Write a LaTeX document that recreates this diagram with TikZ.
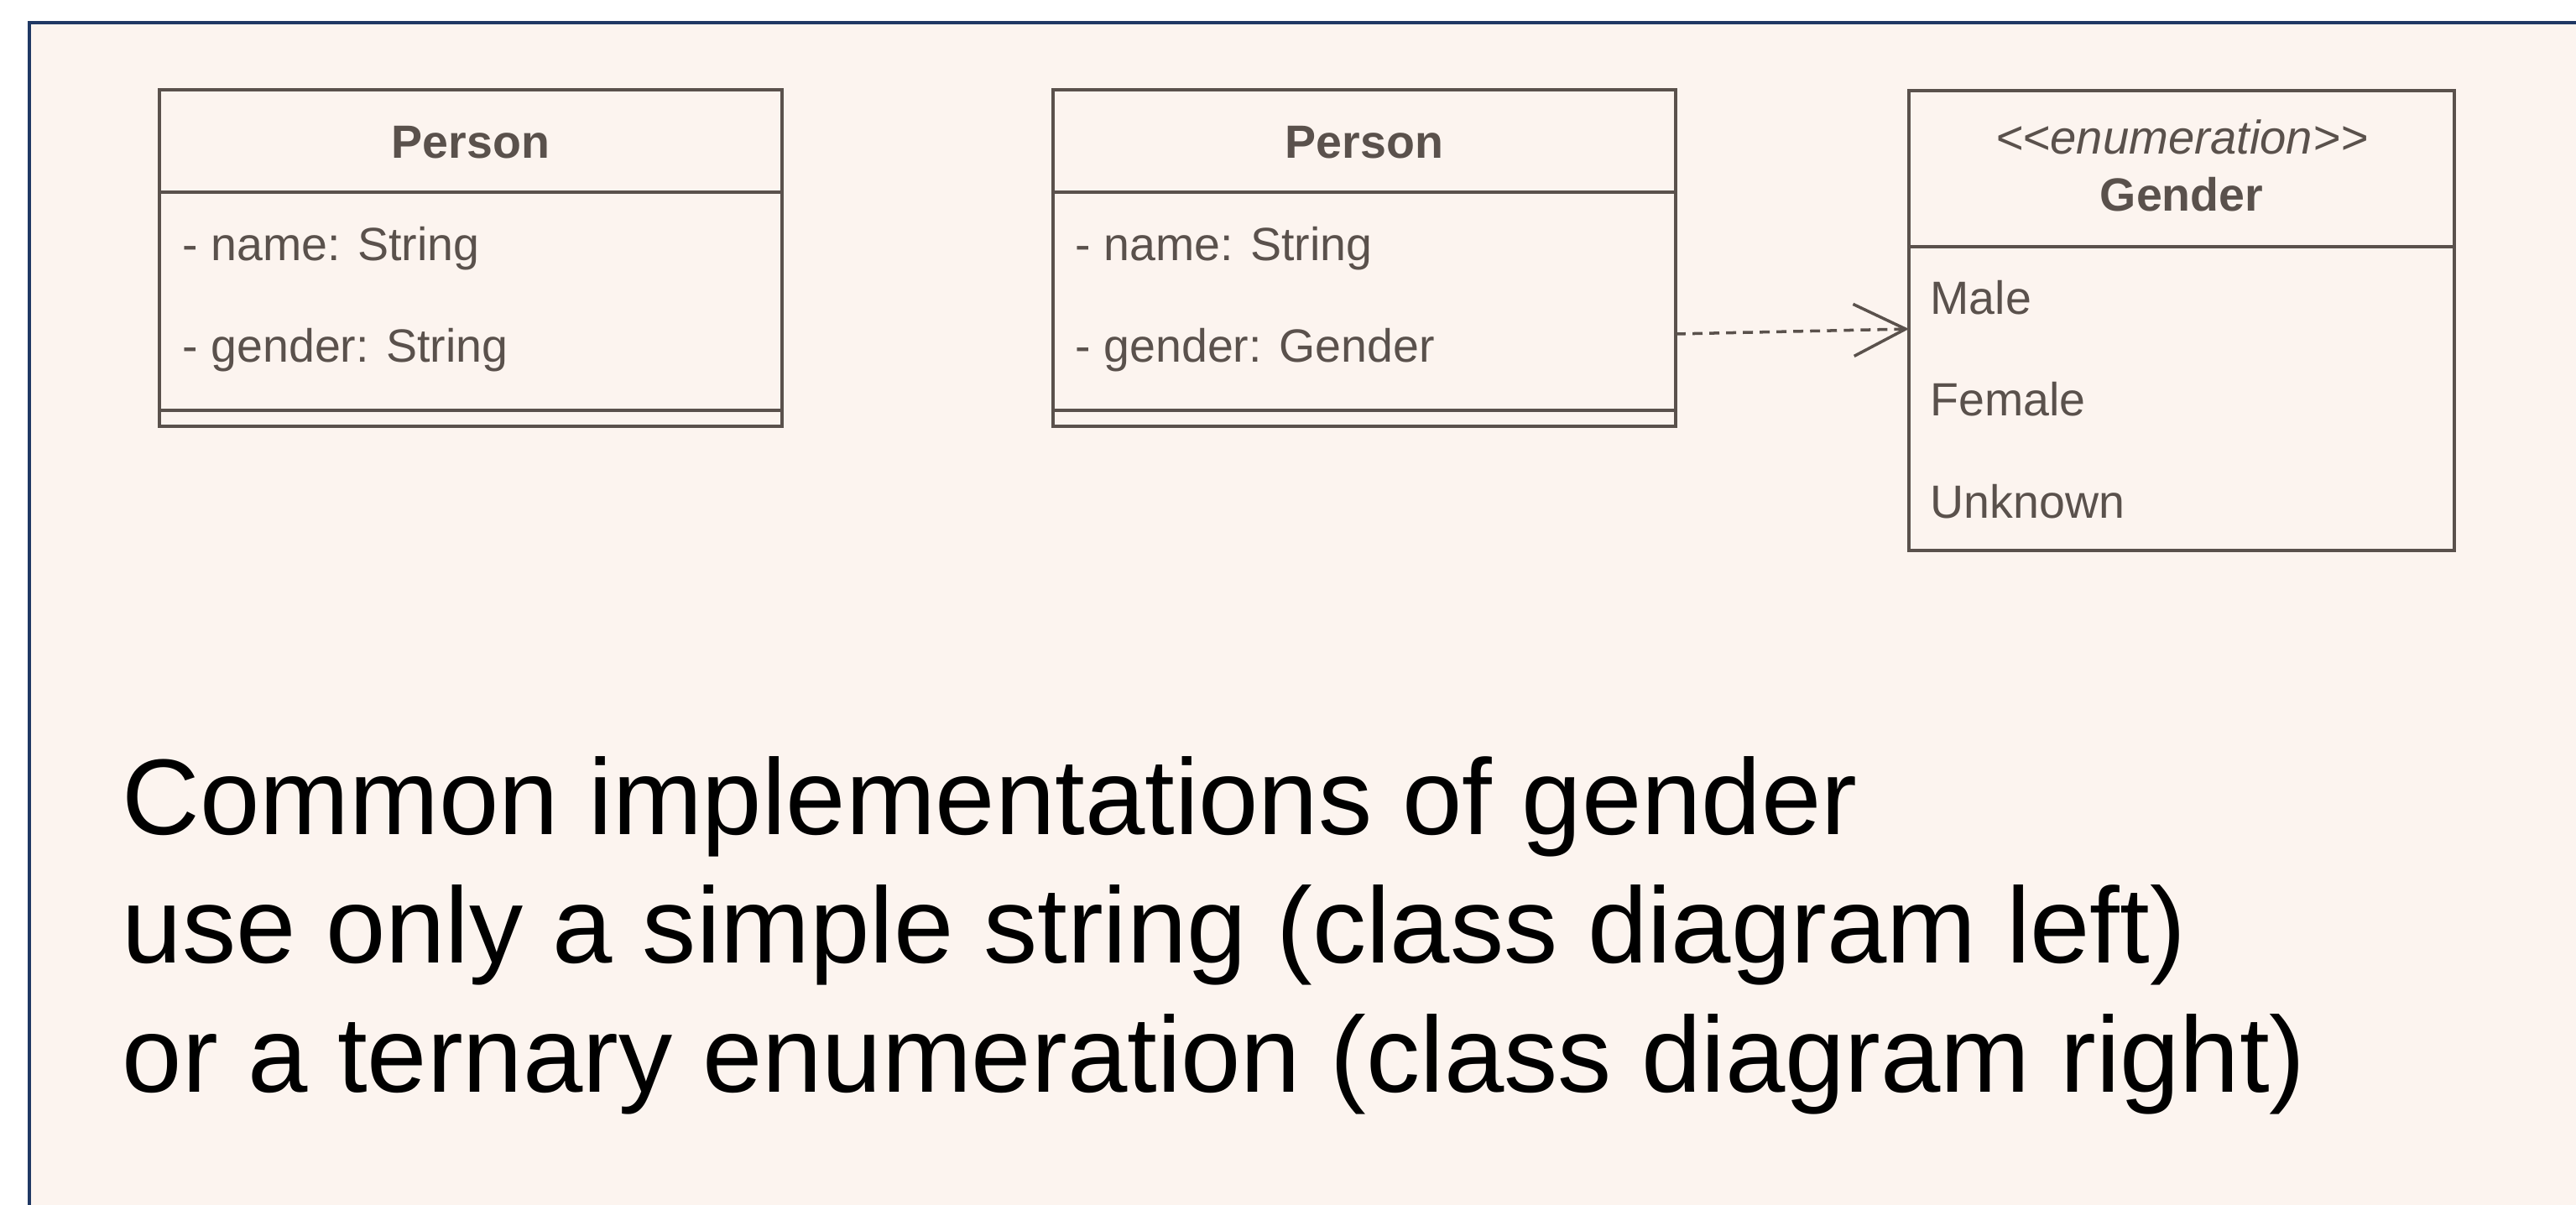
\documentclass[tikz,border=0pt]{standalone}
\usepackage{fontspec}
\setmainfont{Liberation Sans}[Ligatures=TeXOff]
\usetikzlibrary{positioning,arrows.meta}
\definecolor{fondo}{HTML}{FCF4EF}
\definecolor{marco}{HTML}{203864}
\definecolor{linea}{HTML}{5A514C}
\tikzset{
  caja/.style={draw=linea, line width=1.2pt, fill=fondo, outer sep=0pt, inner sep=0pt},
  texto/.style={text=linea, font=\fontsize{15.8}{18}\selectfont, inner sep=0pt, anchor=base west},
  titulo/.style={text=linea, font=\fontsize{15.8}{18}\selectfont\bfseries, inner sep=0pt, anchor=base},
  estereo/.style={text=linea, font=\fontsize{16}{18}\selectfont\itshape, inner sep=0pt, anchor=base},
  grande/.style={text=black, font=\fontsize{36.5}{43.5}\selectfont, inner sep=0pt, anchor=base west},
  dep/.style={draw=linea, line width=1pt, dash pattern=on 3.4pt off 2.3pt,
    -{Straight Barb[length=0.62cm, width=0.62cm, line width=1pt]}}
}
\begin{document}
\begin{tikzpicture}[y=-1cm]
    \useasboundingbox (0,0) rectangle (30.70,14.36);
    \clip (0,0) rectangle (30.70,14.36);
    % Marco del fondo
    \draw[marco, fill=fondo, line width=0.9pt] (0.35,0.27) rectangle (31.5,15);
    % Clase Person con String
    \node[caja, anchor=north west, minimum width=7.42cm, minimum height=1.22cm] (pA) at (1.90,1.07) {};
    \node[caja, minimum width=7.42cm, minimum height=2.60cm, below=0pt of pA] (pAattr) {};
    \node[caja, minimum width=7.42cm, minimum height=0.19cm, below=0pt of pAattr] (pAops) {};
    \node[titulo] (pAtit) at (5.61,1.89) {Person};
    \node[texto] (pAname) at (2.17,3.11) {- name: String};
    \node[texto] (pAgender) at (2.17,4.32) {- gender: String};
    % Clase Person con Gender
    \node[caja, anchor=north west, minimum width=7.42cm, minimum height=1.22cm] (pB) at (12.55,1.07) {};
    \node[caja, minimum width=7.42cm, minimum height=2.60cm, below=0pt of pB] (pBattr) {};
    \node[caja, minimum width=7.42cm, minimum height=0.19cm, below=0pt of pBattr] (pBops) {};
    \node[titulo] (pBtit) at (16.26,1.89) {Person};
    \node[texto] (pBname) at (12.81,3.11) {- name: String};
    \node[texto] (pBgender) at (12.81,4.32) {- gender: Gender};
    % Enumeracion Gender
    \node[caja, anchor=north west, minimum width=6.50cm, minimum height=1.86cm] (gHead) at (22.75,1.08) {};
    \node[caja, minimum width=6.50cm, minimum height=3.62cm, below=0pt of gHead] (gBody) {};
    \node[estereo] (gSter) at (26.00,1.84) {<<enumeration>>};
    \node[titulo] (gTit) at (26.00,2.52) {Gender};
    \node[texto] (gMale) at (23.00,3.75) {Male};
    \node[texto] (gFemale) at (23.00,4.96) {Female};
    \node[texto] (gUnknown) at (23.00,6.18) {Unknown};
    % Dependencia
    \draw[dep] (pBattr.east |- 0,3.98) -- (gBody.west |- 0,3.92);
    % Texto de abajo
    \node[grande] (lineaA) at (1.45,9.95) {Common implementations of gender};
    \node[grande] (lineaB) at (1.45,11.48) {use only a simple string (class diagram left)};
    \node[grande] (lineaC) at (1.45,13.02) {or a ternary enumeration (class diagram right)};
\end{tikzpicture}
\end{document}
